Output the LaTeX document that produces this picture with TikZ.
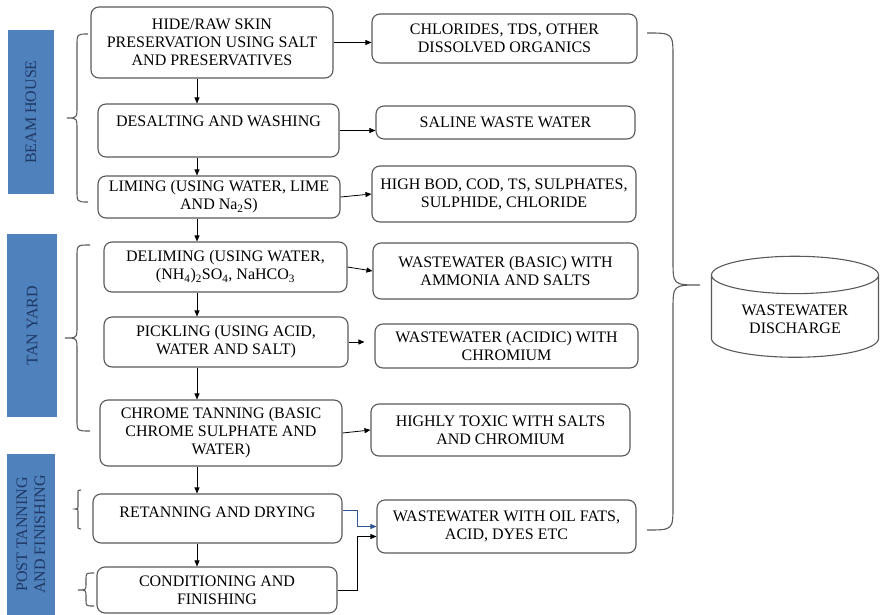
\documentclass[tikz,border=0pt]{standalone}
\usepackage{fontspec}
\setmainfont{Liberation Serif}
\usetikzlibrary{arrows.meta,calc,shapes.geometric}
\definecolor{barblue}{HTML}{4F81BD}
\definecolor{bartext}{HTML}{1F3864}
\definecolor{linkblue}{HTML}{2F5597}
\definecolor{edgegray}{HTML}{595959}
\begin{document}
\begin{tikzpicture}[x=1pt,y=-1pt,
  font=\fontsize{16}{18}\selectfont,
  procbox/.style={draw=edgegray,line width=1.1pt,rounded corners=8pt,align=center,inner sep=2pt},
  stagebar/.style={fill=barblue,text=bartext,rotate=90,align=center,inner sep=0pt},
  arr/.style={-{Triangle[length=6pt,width=5pt]},line width=0.8pt},
  bracket/.style={draw=edgegray,line width=1.1pt}]
  \useasboundingbox (0,0) rectangle (880,615);

  % Stage bars
  \node[stagebar,minimum width=163,minimum height=46] (beam) at (31,112) {BEAM HOUSE};
  \node[stagebar,minimum width=183,minimum height=50] (tan) at (32,325.5) {TAN YARD};
  \node[stagebar,minimum width=161,minimum height=48] (post) at (31,534.5) {POST TANNING\\AND FINISHING};

  % Process steps
  \node[procbox,minimum width=242,minimum height=71] (hide) at (212,42.5) {HIDE/RAW SKIN\\PRESERVATION USING SALT\\AND PRESERVATIVES};
  \node[procbox,minimum width=241,minimum height=53] (desalt) at (218.5,130.5) {DESALTING AND WASHING\\\mbox{}};
  \node[procbox,minimum width=242,minimum height=42] (liming) at (219,197) {LIMING (USING WATER, LIME\\AND Na\textsubscript{2}S)};
  \node[procbox,minimum width=243,minimum height=50] (delime) at (225.5,267) {DELIMING (USING WATER,\\(NH\textsubscript{4})\textsubscript{2}SO\textsubscript{4}, NaHCO\textsubscript{3}};
  \node[procbox,minimum width=244,minimum height=50] (pickle) at (226,342) {PICKLING (USING ACID,\\WATER AND SALT)};
  \node[procbox,minimum width=242,minimum height=66] (chrome) at (221,433) {CHROME TANNING (BASIC\\CHROME SULPHATE AND\\WATER)};
  \node[procbox,minimum width=249,minimum height=49] (retan) at (217.5,518.5) {RETANNING AND DRYING\\[-6pt]\mbox{}};
  \node[procbox,minimum width=240,minimum height=46] (cond) at (217,590) {CONDITIONING AND\\FINISHING};

  % Waste streams
  \node[procbox,minimum width=265,minimum height=49] (chlor) at (504.5,38.5) {CHLORIDES, TDS, OTHER\\DISSOLVED ORGANICS};
  \node[procbox,minimum width=259,minimum height=33] (saline) at (505.5,122.5) {SALINE WASTE WATER};
  \node[procbox,minimum width=264,minimum height=56] (bod) at (504,194) {HIGH BOD, COD, TS, SULPHATES,\\SULPHIDE, CHLORIDE};
  \node[procbox,minimum width=265,minimum height=56] (basic) at (505.5,271) {WASTEWATER (BASIC) WITH\\AMMONIA AND SALTS};
  \node[procbox,minimum width=263,minimum height=44] (acidic) at (506.5,346) {WASTEWATER (ACIDIC) WITH\\CHROMIUM};
  \node[procbox,minimum width=259,minimum height=52] (toxic) at (500.5,430) {HIGHLY TOXIC WITH SALTS\\AND CHROMIUM};
  \node[procbox,minimum width=259,minimum height=53] (oil) at (506.5,526.5) {WASTEWATER WITH OIL FATS,\\ACID, DYES ETC};

  % Discharge tank
  \node[cylinder,shape border rotate=90,draw=edgegray,line width=1.1pt,aspect=0.33,
        minimum width=167,minimum height=101,align=center] (tank) at (795,319) {WASTEWATER\\DISCHARGE};

  % Flow down the process
  \coordinate (spine) at (197,0);
  \foreach \a/\b in {hide/desalt,desalt/liming,liming/delime,delime/pickle,pickle/chrome,chrome/retan,retan/cond}
    \draw[arr] (\a.south -| spine) -- (\b.north -| spine);

  % Steps to waste streams
  \draw[arr] (hide.east) -- (hide.east -| chlor.west);
  \draw[arr] (desalt.east) -- (desalt.east -| saline.west);
  \draw[arr] (liming.east) -- (bod.west);
  \draw[arr] (delime.east) -- (basic.west);
  \draw[arr,shorten >=10pt] (pickle.east) -- (pickle.east -| acidic.west);
  \draw[arr] (chrome.east) -- (toxic.west);
  \draw[arr,linkblue] ($(retan.east)+(0,-8)$) -- ++(15,0) |- (oil.west);
  \draw[arr] (cond.east) -- ++(20,0) |- ($(oil.west)+(0,10)$);

  % Braces
  \draw[bracket] (88,34) .. controls (77,34) .. (77,46) -- (77,106) .. controls (77,118) .. (67,118)
    .. controls (77,118) .. (77,130) -- (77,190) .. controls (77,202) .. (88,202);
  \draw[bracket] (90,245) .. controls (77,245) .. (77,257) -- (77,326) .. controls (77,338) .. (65,338)
    .. controls (77,338) .. (77,350) -- (77,419) .. controls (77,431) .. (90,431);
  \draw[bracket] (81,490) .. controls (78,490) .. (78,494) -- (78,505) .. controls (78,509) .. (75,509)
    .. controls (78,509) .. (78,513) -- (78,525) .. controls (78,529) .. (81,529);
  \draw[bracket] (94,573) .. controls (86,573) .. (86,579) -- (86,584) .. controls (86,590) .. (78,590)
    .. controls (86,590) .. (86,596) -- (86,600) .. controls (86,606) .. (94,606);
  \draw[bracket] (647,33) .. controls (673,33) .. (673,58) -- (673,260) .. controls (673,285) .. (700,285)
    .. controls (673,285) .. (673,310) -- (673,505) .. controls (673,530) .. (647,530);
\end{tikzpicture}
\end{document}
